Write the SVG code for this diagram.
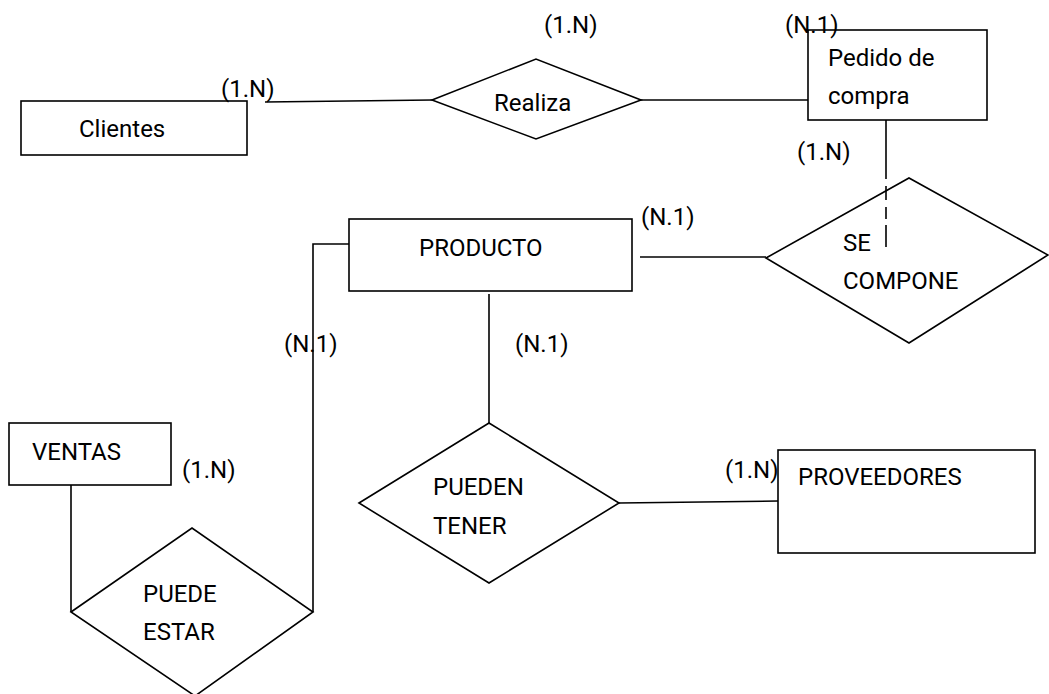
<svg xmlns="http://www.w3.org/2000/svg" width="1049" height="694" viewBox="0 0 1049 694">
<style>
.shape{fill:#fff;stroke:#000;stroke-width:1.6}
.line{fill:none;stroke:#000;stroke-width:1.6}
text{font-family:Roboto,"Liberation Sans",sans-serif;font-size:24px;fill:#000}
</style>
<rect width="1049" height="694" fill="#fff"/>
<g id="connectors">
<line class="line" x1="265" y1="102" x2="432" y2="100"/>
<line class="line" x1="641" y1="100" x2="808" y2="100"/>
<line class="line" x1="886" y1="120" x2="886" y2="179"/>
<path class="line" d="M886 186V200M886 207V219M886 225V247"/>
<line class="line" x1="640" y1="257" x2="766" y2="257"/>
<polyline class="line" points="349,244 313,244 313,612"/>
<line class="line" x1="489" y1="294" x2="489" y2="423"/>
<line class="line" x1="71" y1="485" x2="71" y2="612"/>
<line class="line" x1="619" y1="503" x2="778" y2="501"/>
</g>
<g id="clientes">
<rect class="shape" x="21" y="101" width="226" height="54"/>
<text x="79" y="137">Clientes</text>
</g>
<g id="realiza">
<polygon class="shape" points="432,100 536,59 641,100 536,139"/>
<text x="494" y="111">Realiza</text>
</g>
<g id="pedido">
<rect class="shape" x="808" y="30" width="179" height="90"/>
<text x="828" y="66">Pedido de</text>
<text x="828" y="104">compra</text>
</g>
<g id="se-compone">
<polygon class="shape" points="766,258 909,178 1048,255 909,343" fill="none" style="fill:none"/>
<text x="843" y="251">SE</text>
<text x="843" y="289">COMPONE</text>
</g>
<g id="producto">
<rect class="shape" x="349" y="219" width="283" height="72"/>
<text x="419" y="256">PRODUCTO</text>
</g>
<g id="ventas">
<rect class="shape" x="9" y="423" width="162" height="62"/>
<text x="32" y="460">VENTAS</text>
</g>
<g id="puede-estar">
<polygon class="shape" points="71,612 192,528 313,612 195,696"/>
<text x="143" y="602">PUEDE</text>
<text x="143" y="640">ESTAR</text>
</g>
<g id="pueden-tener">
<polygon class="shape" points="359,503 489,423 619,503 489,583"/>
<text x="433" y="495">PUEDEN</text>
<text x="433" y="534">TENER</text>
</g>
<g id="proveedores">
<rect class="shape" x="778" y="450" width="257" height="103"/>
<text x="798" y="485">PROVEEDORES</text>
</g>
<g id="labels">
<text x="221" y="97">(1.N)</text>
<text x="544" y="33">(1.N)</text>
<text x="785" y="33">(N.1)</text>
<text x="797" y="160">(1.N)</text>
<text x="641" y="225">(N.1)</text>
<text x="284" y="352">(N.1)</text>
<text x="515" y="352">(N.1)</text>
<text x="182" y="478">(1.N)</text>
<text x="725" y="478">(1.N)</text>
</g>
</svg>
